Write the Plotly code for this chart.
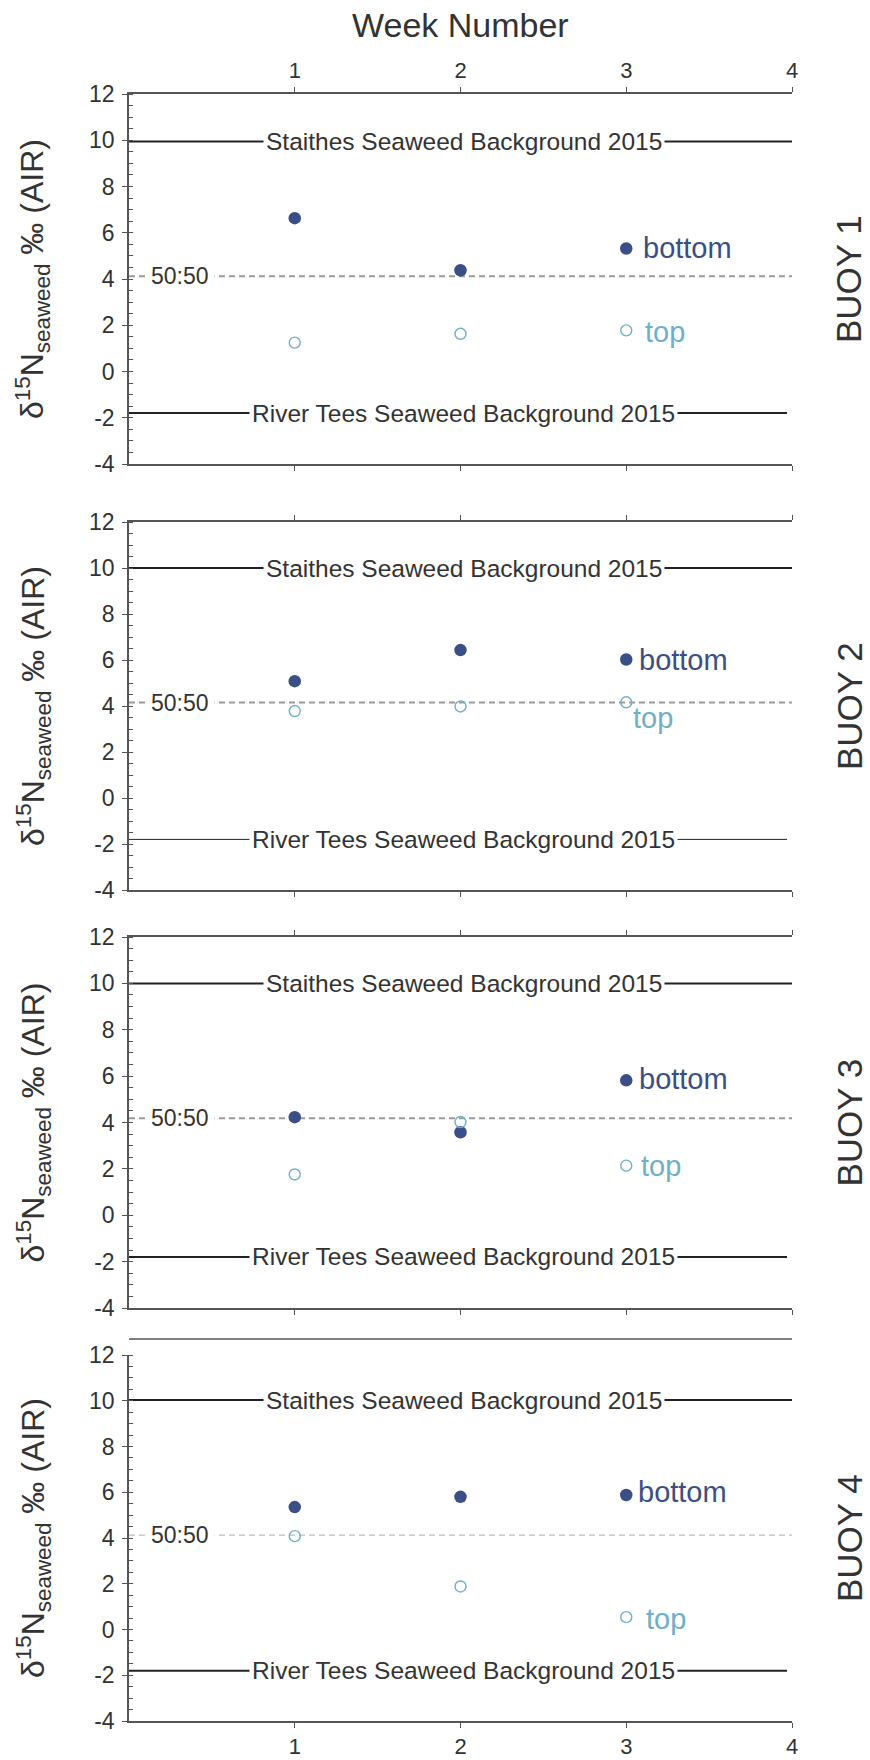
import plotly.graph_objects as go

# ---------------- data ----------------
weeks = [1, 2, 3]
buoys = ["BUOY 1", "BUOY 2", "BUOY 3", "BUOY 4"]
bottom_vals = [[6.63, 4.38, 5.32], [5.08, 6.43, 6.02], [4.23, 3.58, 5.82], [5.35, 5.80, 5.88]]
top_vals = [[1.25, 1.63, 1.78], [3.78, 3.98, 4.16], [1.76, 4.02, 2.14], [4.08, 1.88, 0.54]]
mix_level = [4.12, 4.15, 4.18, 4.13]          # 50:50 mixing line
staithes_bg = [9.95, 10.0, 10.0, 10.03]       # Staithes Seaweed Background 2015
tees_bg = [-1.8, -1.8, -1.8, -1.8]            # River Tees Seaweed Background 2015
bottom_label_y = [5.33, 6.0, 5.88, 6.0]
top_label_y = [1.7, 3.47, 2.12, 0.48]
x_ticks = [1, 2, 3, 4]
x_tick_text = ["1", "2", "3", "4"]
y_ticks = [-4, -2, 0, 2, 4, 6, 8, 10, 12]
y_tick_text = ["-4", "-2", "0", "2", "4", "6", "8", "10", "12"]

# ---------------- style ----------------
W, H = 870, 1760
FONT = "Liberation Sans, Arial, Helvetica, sans-serif"
TXT = "#333333"
AX = "#555555"
NAVY = "#3a4f86"
LBLUE = "#6fb0c8"
X_L, X_R = 129, 792
panels_px = [(94, 464), (522, 890), (937, 1308), (1355, 1721)]
bottom_shift = [15, 11, 11, 10]
top_shift = [17, 5, 13, 18]
line_w = [(2, 2), (2, 1), (2, 2), (2, 2)]
dash_style = [("#9a9a9a", 2), ("#9a9a9a", 2), ("#9a9a9a", 2), ("#bdbdbd", 1.2)]

fig = go.Figure()
layout = dict(
    width=W, height=H, margin=dict(l=0, r=0, t=0, b=0),
    paper_bgcolor="white", plot_bgcolor="white", showlegend=False,
    font=dict(family=FONT, color=TXT),
)
annotations = []
shapes = []

xdom = [X_L / W, X_R / W]

for i in range(4):
    top_px, bot_px = panels_px[i]
    ydom = [1 - bot_px / H, 1 - top_px / H]
    n = i + 1
    xs = "" if n == 1 else str(n)
    xname, yname = "x" + xs, "y" + xs

    # markers
    fig.add_trace(go.Scatter(
        x=weeks, y=bottom_vals[i], mode="markers", xaxis=xname, yaxis=yname,
        marker=dict(size=12.5, color=NAVY, line=dict(width=0)), hoverinfo="skip"))
    fig.add_trace(go.Scatter(
        x=weeks, y=top_vals[i], mode="markers", xaxis=xname, yaxis=yname,
        marker=dict(size=11, color="rgba(0,0,0,0)", line=dict(width=1.4, color=LBLUE)),
        hoverinfo="skip"))

    main_x = dict(
        domain=xdom, range=[0, 4], anchor=yname, tickvals=x_ticks, ticktext=x_tick_text,
        showline=True, linecolor=AX, linewidth=1.5,
        ticks="outside", ticklen=5, tickwidth=1.2, tickcolor=AX,
        showgrid=False, zeroline=False, automargin=False,
        tickfont=dict(size=22, color=TXT, family=FONT),
    )
    over_x = dict(
        overlaying=xname, range=[0, 4], anchor=yname, tickvals=x_ticks,
        showline=False, ticks="inside", ticklen=5, tickwidth=1.2, tickcolor=AX,
        showgrid=False, zeroline=False, showticklabels=False, automargin=False,
    )
    if i == 0:
        main_x.update(side="top", mirror="ticks", showticklabels=True)
        over_x.update(side="top", mirror="ticks")
    elif i in (1, 2):
        main_x.update(side="bottom", mirror="ticks", showticklabels=False)
        over_x.update(side="bottom", mirror="ticks")
    else:
        main_x.update(side="bottom", mirror=False, showticklabels=True)
        over_x.update(side="top", mirror=False)
        # extra overlay for crossing bottom ticks of the last panel
        layout["xaxis9"] = dict(
            overlaying="x4", range=[0, 4], anchor="y4", tickvals=x_ticks, side="bottom",
            showline=False, ticks="inside", ticklen=5, tickwidth=1.2, tickcolor=AX,
            showgrid=False, zeroline=False, showticklabels=False, automargin=False)
        # separate frame line above the last panel
        shapes.append(dict(type="line", xref="paper", yref="paper",
                           x0=xdom[0], x1=xdom[1],
                           y0=1 - (top_px - 16) / H, y1=1 - (top_px - 16) / H,
                           line=dict(color=AX, width=1.5)))

    main_y = dict(
        domain=ydom, range=[-4, 12], anchor=xname, tickvals=y_ticks, ticktext=y_tick_text,
        showline=True, linecolor=AX, linewidth=1.5, mirror=False,
        ticks="outside", ticklen=5, tickwidth=1.2, tickcolor=AX,
        minor=dict(ticks="inside", ticklen=4, tickwidth=1, tickcolor=AX, dtick=0.5, showgrid=False),
        showgrid=False, zeroline=False, automargin=False,
        tickfont=dict(size=23, color=TXT, family=FONT), ticklabelstandoff=3,
    )
    over_y = dict(
        overlaying=yname, range=[-4, 12], anchor=xname, tickvals=y_ticks,
        showline=False, ticks="inside", ticklen=5, tickwidth=1.2, tickcolor=AX,
        showgrid=False, zeroline=False, showticklabels=False, automargin=False,
    )
    layout["xaxis" + str(n)] = main_x
    layout["yaxis" + str(n)] = main_y
    layout["xaxis" + str(n + 4)] = over_x
    layout["yaxis" + str(n + 4)] = over_y

    # reference lines
    sw, tw = line_w[i]
    shapes.append(dict(type="line", xref=xname, yref=yname, x0=0, x1=4,
                       y0=staithes_bg[i], y1=staithes_bg[i], line=dict(color="#222222", width=sw), layer="below"))
    shapes.append(dict(type="line", xref=xname, yref=yname, x0=0, x1=3.97,
                       y0=tees_bg[i], y1=tees_bg[i], line=dict(color="#222222", width=tw), layer="below"))
    dc, dw = dash_style[i]
    shapes.append(dict(type="line", xref=xname, yref=yname, x0=0, x1=4,
                       y0=mix_level[i], y1=mix_level[i], line=dict(color=dc, width=dw, dash="6px,4px"), layer="below"))

    # line labels (white box interrupts the line)
    annotations.append(dict(x=2.02, y=staithes_bg[i], xref=xname, yref=yname, showarrow=False,
                            text="Staithes Seaweed Background 2015", bgcolor="white", borderpad=2,
                            font=dict(size=24.5, color=TXT, family=FONT)))
    annotations.append(dict(x=2.02, y=tees_bg[i], xref=xname, yref=yname, showarrow=False,
                            text="River Tees Seaweed Background 2015", bgcolor="white", borderpad=2,
                            font=dict(size=24.5, color=TXT, family=FONT)))
    annotations.append(dict(x=0.31, y=mix_level[i], xref=xname, yref=yname, showarrow=False,
                            text="50:50", bgcolor="white", borderpad=5,
                            font=dict(size=23, color=TXT, family=FONT)))
    # series labels
    annotations.append(dict(x=3, y=bottom_label_y[i], xref=xname, yref=yname, showarrow=False,
                            xanchor="left", xshift=bottom_shift[i], text="bottom",
                            font=dict(size=29, color=NAVY, family=FONT)))
    annotations.append(dict(x=3, y=top_label_y[i], xref=xname, yref=yname, showarrow=False,
                            xanchor="left", xshift=top_shift[i], text="top",
                            font=dict(size=29, color=LBLUE, family=FONT)))
    # y title
    ymid = 1 - (top_px + bot_px) / 2 / H
    annotations.append(dict(x=33 / W, y=ymid, xref="paper", yref="paper", showarrow=False,
                            textangle=-90, xanchor="center", yanchor="middle",
                            text="δ<sup>15</sup>N<sub>seaweed</sub> ‰ (AIR)",
                            font=dict(size=32, color=TXT, family=FONT)))
    # buoy label
    annotations.append(dict(x=849 / W, y=ymid, xref="paper", yref="paper", showarrow=False,
                            textangle=-90, xanchor="center", yanchor="middle",
                            text=buoys[i], font=dict(size=35, color=TXT, family=FONT)))

annotations.append(dict(x=(X_L + X_R) / 2 / W, y=1 - 25 / H, xref="paper", yref="paper",
                        showarrow=False, text="Week Number", xanchor="center", yanchor="middle",
                        font=dict(size=34, color=TXT, family=FONT)))

layout["annotations"] = annotations
layout["shapes"] = shapes
fig.update_layout(**layout)
fig.write_html("out.html")
